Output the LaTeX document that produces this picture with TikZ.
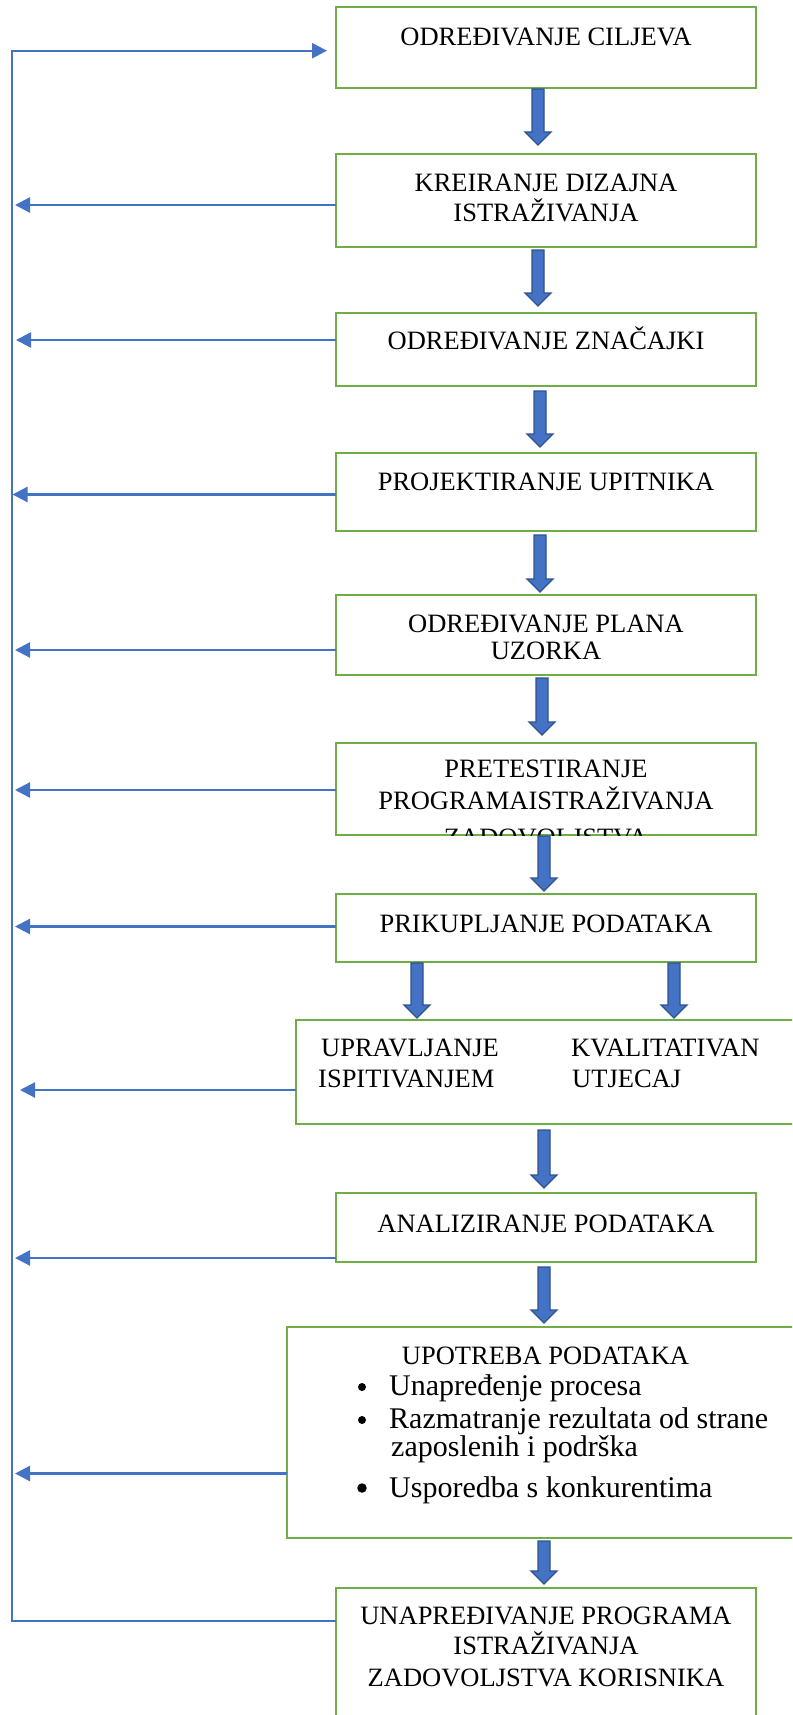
\documentclass[tikz,border=0pt]{standalone}
\usepackage{fontspec}
\setmainfont{Liberation Serif}
\usetikzlibrary{arrows.meta,calc}
\definecolor{gr}{HTML}{70AD47}
\definecolor{bl}{HTML}{4472C4}
\definecolor{nv}{HTML}{2F528F}
\tikzset{
 gbox/.style={draw=gr, line width=2.2pt, rectangle, inner sep=0pt, outer sep=0pt},
 lbl/.style={inner sep=0pt, anchor=base, font=\fontsize{26.5}{30}\selectfont},
 lblw/.style={lbl, anchor=base west},
 bul/.style={inner sep=0pt, anchor=base west, font=\fontsize{30}{34}\selectfont},
 dot/.style={circle, fill=black, inner sep=0pt, minimum size=8pt},
 fb/.style={draw=bl, line width=2.3pt, line join=miter, -{Triangle[length=15pt,width=15pt]}},
 barr/.style={fill=bl, draw=nv, line width=1.3pt, line join=miter},
}
% #1 x, #2 from node, #3 to node, #4 start gap, #5 end gap
\newcommand\barrow[5]{%
 \draw[barr] let \p1=(#2.south), \p2=(#3.north) in
 (#1pt-6pt,\y1-#4pt) -- (#1pt+6pt,\y1-#4pt) -- (#1pt+6pt,\y2+#5pt+13pt) -- (#1pt+13pt,\y2+#5pt+13pt)
 -- (#1pt,\y2+#5pt) -- (#1pt-13pt,\y2+#5pt+13pt) -- (#1pt-6pt,\y2+#5pt+13pt) -- cycle;}
\begin{document}
\begin{tikzpicture}[x=1pt,y=1pt]
\useasboundingbox (0,0) rectangle (792,-1715);
\fill[white] (0,0) rectangle (792,-1715);
\clip (0,0) rectangle (792,-1715);

% boxes
\node[gbox, minimum width=420pt, minimum height=81pt] (b1) at (546,-47.5) {};
\node[gbox, minimum width=420pt, minimum height=93pt] (b2) at (546,-200.5) {};
\node[gbox, minimum width=420pt, minimum height=73pt] (b3) at (546,-349.5) {};
\node[gbox, minimum width=420pt, minimum height=78pt] (b4) at (546,-492) {};
\node[gbox, minimum width=420pt, minimum height=80pt] (b5) at (546,-635) {};
\node[gbox, minimum width=420pt, minimum height=92pt] (b6) at (546,-789) {};
\node[gbox, minimum width=420pt, minimum height=68pt] (b7) at (546,-928) {};
\node[gbox, minimum width=504pt, minimum height=104pt] (b8) at (548,-1072) {};
\node[gbox, minimum width=420pt, minimum height=69pt] (b9) at (546,-1227.5) {};
\node[gbox, minimum width=513pt, minimum height=211pt] (b10) at (543.5,-1432.5) {};
\node[gbox, minimum width=420pt, minimum height=137pt] (b11) at (546,-1656.5) {};

% texts
\node[lbl] (t1) at (546,-46) {ODREĐIVANJE CILJEVA};
\node[lbl] (t2a) at (546,-192) {KREIRANJE DIZAJNA};
\node[lbl] (t2b) at (546,-221) {ISTRAŽIVANJA};
\node[lbl] (t3) at (546,-349) {ODREĐIVANJE ZNAČAJKI};
\node[lbl] (t4) at (546,-490) {PROJEKTIRANJE UPITNIKA};
\node[lbl] (t5a) at (546,-632) {ODREĐIVANJE PLANA};
\node[lbl] (t5b) at (546,-659) {UZORKA};
\begin{scope}
\clip (b6.north west) rectangle (b6.south east);
\node[lbl] (t6a) at (546,-777) {PRETESTIRANJE};
\node[lbl] (t6b) at (546,-809) {PROGRAMAISTRAŽIVANJA};
\node[lbl] (t6c) at (546,-846) {ZADOVOLJSTVA};
\end{scope}
\node[lbl] (t7) at (546,-932) {PRIKUPLJANJE PODATAKA};
\node[lblw] (t8a) at (321,-1056) {UPRAVLJANJE};
\node[lblw] (t8b) at (318,-1087) {ISPITIVANJEM};
\node[lblw] (t8c) at (571,-1056) {KVALITATIVAN};
\node[lblw] (t8d) at (572,-1087) {UTJECAJ};
\node[lbl] (t9) at (546,-1232) {ANALIZIRANJE PODATAKA};
\node[lbl] (t10) at (545.5,-1364) {UPOTREBA PODATAKA};
\node[dot] (d1) at (362,-1387) {};
\node[bul] (u1) at (389,-1395) {Unapređenje procesa};
\node[dot] (d2) at (362,-1420) {};
\node[bul] (u2) at (389,-1428) {Razmatranje rezultata od strane};
\node[bul] (u3) at (391,-1456) {zaposlenih i podrška};
\node[dot, minimum size=9.5pt] (d3) at (362,-1488) {};
\node[bul] (u4) at (389,-1497) {Usporedba s konkurentima};
\node[lbl] (t11a) at (546,-1624) {UNAPREĐIVANJE PROGRAMA};
\node[lbl] (t11b) at (546,-1654) {ISTRAŽIVANJA};
\node[lbl] (t11c) at (546,-1686) {ZADOVOLJSTVA KORISNIKA};

% block arrows
\barrow{538}{b1}{b2}{1}{9}
\barrow{538}{b2}{b3}{3}{7}
\barrow{540}{b3}{b4}{5}{6}
\barrow{540}{b4}{b5}{4}{3}
\barrow{542}{b5}{b6}{3}{8}
\barrow{544}{b6}{b7}{1}{3}
\barrow{417}{b7}{b8}{1}{2}
\barrow{674}{b7}{b8}{1}{2}
\barrow{544}{b8}{b9}{6}{5}
\barrow{544}{b9}{b10}{5}{4}
\barrow{544}{b10}{b11}{3}{4}

% feedback lines
\coordinate (c0) at (12,-1621);
\coordinate (c1) at (12,-50.7);
\coordinate (e1) at (327,-50.7);
\draw[fb] (b11.west |- c0) -- (c0) -- (c1) -- (e1);
\coordinate (e2) at (15,-205);
\coordinate (e3) at (16,-340);
\coordinate (e4) at (12.5,-494.5);
\coordinate (e5) at (15,-650);
\coordinate (e6) at (15,-790);
\coordinate (e7) at (15,-926.5);
\coordinate (e8) at (20,-1090);
\coordinate (e9) at (15,-1258);
\coordinate (e10) at (15,-1473.5);
\draw[fb] (b2.west |- e2) -- (e2);
\draw[fb] (b3.west |- e3) -- (e3);
\draw[fb] (b4.west |- e4) -- (e4);
\draw[fb] (b5.west |- e5) -- (e5);
\draw[fb] (b6.west |- e6) -- (e6);
\draw[fb] (b7.west |- e7) -- (e7);
\draw[fb] (b8.west |- e8) -- (e8);
\draw[fb] (b9.west |- e9) -- (e9);
\draw[fb] (b10.west |- e10) -- (e10);
\end{tikzpicture}
\end{document}
